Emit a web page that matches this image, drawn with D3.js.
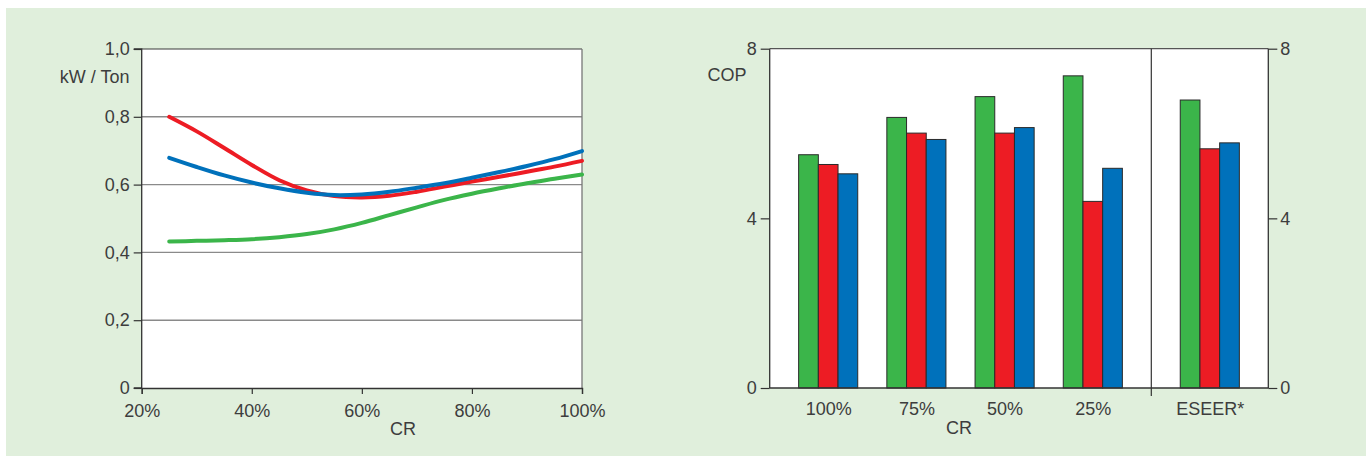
<!DOCTYPE html>
<html><head><meta charset="utf-8">
<script src="https://cdn.jsdelivr.net/npm/d3@7"></script>
<style>
html,body{margin:0;padding:0;background:#fff;}
svg{display:block;}
text{font-family:"Liberation Sans",Arial,Helvetica,sans-serif;fill:#3d3d3d;}
</style></head>
<body>
<svg id="c" width="1366" height="456"></svg>
<script>
// ---- Line chart data (kW / Ton vs CR %) ----
const crValues = [25,30,35,40,45,50,55,60,65,70,75,80,85,90,95,100];
const redLine   = [0.800,0.757,0.708,0.658,0.613,0.583,0.566,0.562,0.567,0.579,0.594,0.609,0.623,0.638,0.653,0.670];
const blueLine  = [0.679,0.652,0.627,0.606,0.589,0.576,0.569,0.571,0.579,0.591,0.604,0.620,0.637,0.655,0.675,0.699];
const greenLine = [0.432,0.434,0.436,0.439,0.445,0.454,0.468,0.487,0.510,0.533,0.555,0.573,0.589,0.604,0.617,0.630];
const lineXTicks = [20,40,60,80,100];
const lineYTicks = [0,0.2,0.4,0.6,0.8,1.0];
const lineYLabels = ["0","0,2","0,4","0,6","0,8","1,0"];

// ---- Bar chart data (COP) ----
const barCategories = ["100%","75%","50%","25%"];
const extraCategory = "ESEER*";
const greenBars = [5.50,6.38,6.87,7.36];
const redBars   = [5.27,6.01,6.01,4.40];
const blueBars  = [5.05,5.86,6.14,5.18];
const eseerValues = [6.79,5.64,5.78]; // green, red, blue
const barYTicks = [0,4,8];

const colors = {green:"#3bb54a", red:"#ed1c24", blue:"#0071bb"};
const FS = 18;

const svg = d3.select("#c");
svg.append("rect").attr("x",6).attr("y",8).attr("width",1360).attr("height",448).attr("fill","#e0efdc");

// ================= LINE CHART =================
const L = {x0:141.7, x1:582, y0:388, y1:49};
const lx = d3.scaleLinear().domain([20,100]).range([L.x0,L.x1]);
const ly = d3.scaleLinear().domain([0,1]).range([L.y0,L.y1]);
const gL = svg.append("g");
gL.append("rect").attr("x",L.x0).attr("y",L.y1).attr("width",L.x1-L.x0).attr("height",L.y0-L.y1).attr("fill","#fff");
gL.selectAll("line.grid").data([0.2,0.4,0.6,0.8]).join("line")
  .attr("x1",L.x0).attr("x2",L.x1).attr("y1",d=>ly(d)).attr("y2",d=>ly(d))
  .attr("stroke","#8a8a8a").attr("stroke-width",1.4);
gL.append("line").attr("x1",L.x0).attr("x2",L.x1).attr("y1",ly(1)).attr("y2",ly(1)).attr("stroke","#3a3a3a").attr("stroke-width",1.2);
gL.append("line").attr("x1",L.x1).attr("x2",L.x1).attr("y1",L.y1).attr("y2",L.y0).attr("stroke","#777").attr("stroke-width",1.3);

const axL = gL.append("g").attr("transform",`translate(${L.x0},0)`)
  .call(d3.axisLeft(ly).tickValues(lineYTicks).tickFormat((d,i)=>lineYLabels[i]).tickSize(8).tickPadding(4));
const axB = gL.append("g").attr("transform",`translate(0,${L.y0})`)
  .call(d3.axisBottom(lx).tickValues(lineXTicks).tickFormat(d=>d+"%").tickSize(6).tickPadding(10));
[axL,axB].forEach(a=>{
  a.select(".domain").attr("stroke","#333").attr("stroke-width",1.3);
  a.selectAll(".tick line").attr("stroke","#333").attr("stroke-width",1.2);
  a.selectAll("text").attr("font-size",FS).attr("fill","#3d3d3d").attr("font-family","Liberation Sans, Arial, sans-serif");
});
axL.select(".domain").attr("d",`M-8,${L.y0}H0V${L.y1}H-8`);
gL.append("text").attr("x",129.5).attr("y",77).attr("text-anchor","end").attr("dominant-baseline","central").attr("font-size",FS).text("kW / Ton");
gL.append("text").attr("x",403).attr("y",429).attr("text-anchor","middle").attr("dominant-baseline","central").attr("font-size",FS).text("CR");

const line = d3.line().x((d,i)=>lx(crValues[i])).y(d=>ly(d)).curve(d3.curveCatmullRom.alpha(0.5));
[[greenLine,colors.green],[redLine,colors.red],[blueLine,colors.blue]].forEach(([s,c])=>{
  gL.append("path").attr("d",line(s)).attr("fill","none").attr("stroke",c).attr("stroke-width",4).attr("stroke-linecap","round");
});

// ================= BAR CHART =================
const B = {x0:769.7, xd:1151.3, x1:1268.3, y0:388, y1:48.7};
const by = d3.scaleLinear().domain([0,8]).range([B.y0,B.y1]);
const bx = d3.scalePoint().domain(barCategories).range([B.x0,B.xd]).padding(0.663);
const barW = 19.7;
const ex = d3.scalePoint().domain([extraCategory]).range([B.xd, B.x1]).padding(0.5);
const gB = svg.append("g");
gB.append("rect").attr("x",B.x0).attr("y",B.y1).attr("width",B.x1-B.x0).attr("height",B.y0-B.y1).attr("fill","#fff");
gB.append("line").attr("x1",B.x0).attr("x2",B.x1).attr("y1",B.y1).attr("y2",B.y1).attr("stroke","#555").attr("stroke-width",1.3);
gB.append("line").attr("x1",B.xd).attr("x2",B.xd).attr("y1",B.y1).attr("y2",B.y0+8).attr("stroke","#333").attr("stroke-width",1.2);

const groups = barCategories.map((c,i)=>({cx:bx(c), vals:[greenBars[i],redBars[i],blueBars[i]]}));
groups.push({cx:ex(extraCategory), vals:eseerValues});
const sc = [colors.green,colors.red,colors.blue];
groups.forEach(g=>{
  g.vals.forEach((v,j)=>{
    gB.append("rect").attr("x",g.cx-1.5*barW+j*barW).attr("y",by(v)).attr("width",barW).attr("height",by(0)-by(v))
      .attr("fill",sc[j]).attr("stroke","#2a2a2a").attr("stroke-width",1);
  });
});

const bL = gB.append("g").attr("transform",`translate(${B.x0},0)`)
  .call(d3.axisLeft(by).tickValues(barYTicks).tickSize(9).tickPadding(4));
const bR = gB.append("g").attr("transform",`translate(${B.x1},0)`)
  .call(d3.axisRight(by).tickValues(barYTicks).tickSize(9).tickPadding(3));
const bB = gB.append("g").attr("transform",`translate(0,${B.y0})`)
  .call(d3.axisBottom(bx).tickSize(0).tickPadding(14));
const bE = gB.append("g").attr("transform",`translate(0,${B.y0})`)
  .call(d3.axisBottom(ex).tickSize(0).tickPadding(14));
[bL,bR,bB,bE].forEach(a=>{
  a.select(".domain").attr("stroke","#333").attr("stroke-width",1.3);
  a.selectAll(".tick line").attr("stroke","#333").attr("stroke-width",1.2);
  a.selectAll("text").attr("font-size",FS).attr("fill","#3d3d3d").attr("font-family","Liberation Sans, Arial, sans-serif");
});
bL.select(".domain").attr("d",`M0,${B.y0}V${B.y1}`);
bR.select(".domain").attr("d",`M0,${B.y0}V${B.y1}`);
bB.select(".domain").attr("d",`M${B.x0},0H${B.xd}`);
bE.select(".domain").attr("d",`M${B.xd},0H${B.x1}`);
gB.append("text").attr("x",727).attr("y",75).attr("text-anchor","middle").attr("dominant-baseline","central").attr("font-size",FS).text("COP");
gB.append("text").attr("x",959).attr("y",428).attr("text-anchor","middle").attr("dominant-baseline","central").attr("font-size",FS).text("CR");
</script>
</body></html>
